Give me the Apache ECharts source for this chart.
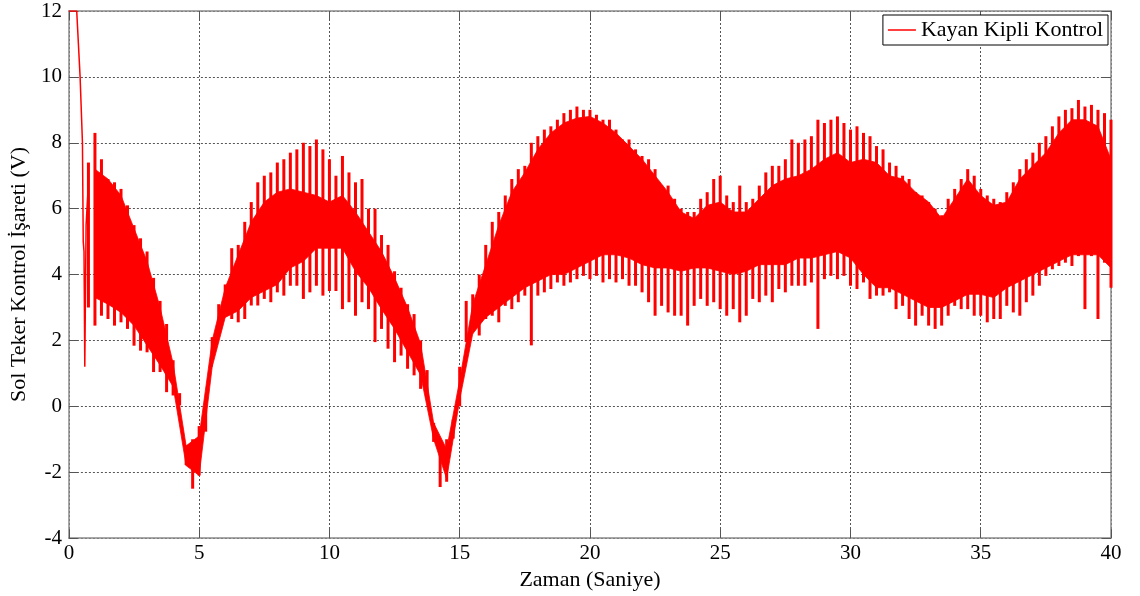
<!DOCTYPE html>
<html><head><meta charset="utf-8">
<script src="https://cdn.jsdelivr.net/npm/echarts@6/dist/echarts.min.js"></script>
<style>html,body{margin:0;padding:0;background:#fff}#c{width:1140px;height:596px}</style>
</head><body><div id="c"></div>
<script>
const SERIES_NAME = 'Kayan Kipli Kontrol';
const X_TITLE = 'Zaman (Saniye)';
const Y_TITLE = 'Sol Teker Kontrol İşareti (V)';
const X_MIN = 0, X_MAX = 40, X_STEP = 5;
const Y_MIN = -4, Y_MAX = 12, Y_STEP = 2;

// initial transient (time s, value V)
const startT = [0, 0.3, 0.43, 0.52, 0.55, 0.58, 0.61, 0.66, 0.75];
const startV = [12, 12, 10, 8, 5.0, 4.7, 1.2, 5.5, 6.8];

// spike envelope, sampled every 0.25 s from t = 0.75 s
const SPIKE_T0 = 0.75, SPIKE_STEP = 0.25;
const spikeHi = [7.4,
 8.3, 7.5, 6.9, 6.8,   6.6, 6.1, 5.5, 5.1,   4.7, 3.9, 3.2, 2.5,   1.4, 0.4, -1.2, -1.0,
 -0.6, -0.1, 2.1, 3.1, 3.7, 4.8, 4.9, 5.6,   6.2, 6.8, 7.0, 7.1,   7.4, 7.5, 7.7, 7.8,
 8.0, 7.9, 8.1, 7.8,   7.5, 7.0, 7.6, 7.1,   6.8, 6.9, 6.0, 6.0,   5.2, 4.9, 4.1, 3.6,
 3.1, 2.8, 2.0, 1.1,   -0.5, -1.1, -1.0, -0.4, 1.2, 3.2, 3.4, 4.0, 4.9, 5.6, 5.9, 6.4,
 6.9, 7.2, 7.3, 8.0,   8.2, 8.4, 8.5, 8.7,   8.9, 9.0, 9.1, 9.0,   9.0, 8.85, 8.7, 8.7,
 8.4, 8.1, 8.1, 7.8,   7.6, 7.5, 7.2, 6.7,   6.7, 6.3, 6.0, 5.9,   5.9, 6.3, 6.5, 6.9,
 7.0, 6.4, 6.2, 6.7,   6.2, 6.3, 6.7, 7.1,   7.3, 7.3, 7.5, 8.1,   8.0, 8.1, 8.2, 8.7,
 8.6, 8.7, 8.8, 8.6,   8.4, 8.5, 8.3, 8.2,   7.9, 7.8, 7.4, 7.3,   7.0, 6.9, 6.5, 6.4,
 6.2, 6.0, 5.8, 6.3,   6.6, 6.9, 7.2, 7.0,   6.6, 6.4, 6.3, 6.2,   6.5, 6.8, 7.2, 7.5,
 7.7, 8.0, 8.2, 8.5,   8.8, 9.0, 9.05, 9.3,  9.1, 9.15, 9.0, 8.9,  8.7];
const spikeLo = [3.0,
 2.45, 2.75, 2.65, 2.45, 2.55, 2.35, 1.84, 1.69, 1.64, 1.04, 1.04, 0.43, 0.33, 0.03, -1.78, -2.5,
 -2.1, -0.77, 1.44, 2.25, 2.85, 2.65, 2.55, 2.65, 3.06, 3.06, 3.26, 3.16, 3.46, 3.36, 3.66, 3.66,
 3.26, 3.46, 3.66, 3.36, 3.5, 3.5, 2.95, 3.16,  2.75, 3.16, 2.95, 1.95, 2.35, 1.75, 1.34, 1.54,
 1.14, 0.94, 0.53, 0.23, -1.08, -2.45, -2.29, -0.98, 0.0, 1.95, 2.35, 2.15, 2.65, 2.75, 2.55, 3.05,
 2.95, 3.16, 3.36, 1.85, 3.36, 3.46, 3.56, 3.76, 3.66, 3.76, 3.86, 3.96, 3.86, 3.96, 3.76, 3.86,
 3.76, 3.86, 3.66, 3.66, 3.46, 3.16, 2.75, 3.05, 2.85, 2.75, 2.75, 2.45, 3.05, 3.26, 3.05, 3.16,
 2.95, 2.75, 2.95, 2.55, 2.75, 3.26, 3.16, 3.36, 3.16, 3.56, 3.46, 3.66, 3.66, 3.66, 3.76, 2.35,
 3.86, 3.96, 3.86, 3.96, 3.66, 3.56, 3.76, 3.26, 3.36, 3.36, 3.46, 2.95, 3.05, 2.65, 2.45, 2.75,
 2.45, 2.35, 2.45, 2.75, 3.05, 2.95, 2.95, 2.75, 2.75, 2.55, 2.65, 2.65, 3.05, 2.85, 2.75, 3.16,
 3.36, 3.66, 3.96, 4.16, 4.26, 4.36, 4.26, 4.56, 2.95, 4.56, 2.65, 4.36, 3.6];

// dense (mostly solid) core band, sampled every 0.5 s from t = 1 s
const CORE_T0 = 1.0, CORE_STEP = 0.5;
const coreHi = [
 7.2, 6.9, 6.4, 5.4, 4.4, 3.0, 1.3, -1.2, -0.9, 2.0,
 3.6, 4.6, 5.6, 6.2, 6.5, 6.6, 6.5, 6.4, 6.2, 6.4,
 5.9, 5.3, 4.7, 3.9, 3.0, 1.9, -0.5, -1.3, 0.8, 3.1,
 4.3, 5.5, 6.5, 7.1, 7.8, 8.3, 8.6, 8.75, 8.8, 8.6,
 8.3, 7.9, 7.5, 7.0, 6.5, 5.9, 5.7, 6.1, 6.2, 5.9,
 5.9, 6.3, 6.7, 6.9, 7.0, 7.2, 7.5, 7.7, 7.4, 7.5,
 7.4, 7.0, 6.9, 6.5, 6.2, 5.7, 6.3, 6.9, 6.4, 6.1,
 6.2, 6.9, 7.3, 7.7, 8.3, 8.7, 8.7, 8.5, 7.5];
const coreLo = [
 3.3, 3.1, 2.85, 2.45, 1.85, 1.25, 0.6, -1.8, -2.1, 1.2,
 2.7, 2.9, 3.3, 3.5, 3.7, 4.2, 4.4, 4.8, 4.8, 4.8,
 4.1, 3.6, 2.95, 2.35, 1.65, 0.95, -1.0, -2.2, 0.2, 2.2,
 2.7, 3.0, 3.3, 3.6, 3.8, 4.0, 4.0, 4.2, 4.4, 4.6,
 4.6, 4.5, 4.3, 4.2, 4.2, 4.1, 4.2, 4.2, 4.1, 4.0,
 4.1, 4.3, 4.3, 4.3, 4.5, 4.5, 4.6, 4.7, 4.5, 4.0,
 3.6, 3.6, 3.4, 3.2, 3.0, 3.0, 3.2, 3.4, 3.4, 3.3,
 3.6, 3.8, 4.0, 4.2, 4.4, 4.6, 4.6, 4.6, 4.2];

const RED = '#ff0000';
const FONT = 'Liberation Serif';

const startData = startT.map((t, i) => [t, startV[i]]);
const spikeData = spikeHi.map((h, i) => [SPIKE_T0 + i * SPIKE_STEP, spikeLo[i], h]);
const coreData = coreHi.map((h, i) => [CORE_T0 + i * CORE_STEP, coreLo[i], h]);

const chart = echarts.init(document.getElementById('c'), null, {renderer: 'canvas'});

const frameLine = {show: true, onZero: false, lineStyle: {color: '#8a8a8a', width: 1.5}};
const tickIn = {show: true, inside: true, length: 9, lineStyle: {color: '#555', width: 1}};
const grid = {show: true, lineStyle: {color: '#555', width: 1, type: [2, 2]}};

chart.setOption({
  animation: false,
  backgroundColor: '#fff',
  grid: {left: 65, top: 11, width: 1046, height: 529, containLabel: false},
  legend: {
    data: [{name: SERIES_NAME, icon: 'rect'}], right: 32, top: 15,
    backgroundColor: '#fff', borderColor: '#000', borderWidth: 1, borderRadius: 0,
    padding: [4, 5, 4, 5], itemWidth: 28, itemHeight: 1.5, itemGap: 10,
    itemStyle: {color: RED},
    textStyle: {fontFamily: FONT, fontSize: 22, color: '#000'}
  },
  xAxis: [{
    type: 'value', min: X_MIN, max: X_MAX, interval: X_STEP,
    axisLine: frameLine, axisTick: tickIn, splitLine: grid,
    axisLabel: {color: '#000', fontFamily: FONT, fontSize: 21, margin: 5},
    name: X_TITLE, nameLocation: 'middle', nameGap: 25,
    nameTextStyle: {color: '#000', fontFamily: FONT, fontSize: 22}
  }, {
    type: 'value', position: 'top', min: X_MIN, max: X_MAX, interval: X_STEP,
    axisLine: frameLine, axisTick: tickIn, splitLine: {show: false}, axisLabel: {show: false}
  }],
  yAxis: [{
    type: 'value', min: Y_MIN, max: Y_MAX, interval: Y_STEP,
    axisLine: frameLine, axisTick: tickIn, splitLine: grid,
    axisLabel: {color: '#000', fontFamily: FONT, fontSize: 21, margin: 7},
    name: Y_TITLE, nameLocation: 'middle', nameGap: 34, nameRotate: 90,
    nameTextStyle: {color: '#000', fontFamily: FONT, fontSize: 22}
  }, {
    type: 'value', position: 'right', min: Y_MIN, max: Y_MAX, interval: Y_STEP,
    axisLine: frameLine, axisTick: tickIn, splitLine: {show: false}, axisLabel: {show: false}
  }],
  series: [{
    name: 'core', type: 'custom', xAxisIndex: 0, yAxisIndex: 0,
    data: coreData, encode: {x: 0, y: [1, 2]}, silent: true,
    renderItem: function (params, api) {
      const i = params.dataIndex;
      if (i >= coreData.length - 1) return null;
      const n = coreData[i + 1];
      const a = api.coord([api.value(0), api.value(1)]);
      const b = api.coord([api.value(0), api.value(2)]);
      const c = api.coord([n[0], n[2]]);
      const d = api.coord([n[0], n[1]]);
      return {type: 'polygon', shape: {points: [a, b, c, d]},
        style: {fill: RED, stroke: RED, lineWidth: 0.8}};
    }
  }, {
    name: 'spikes', type: 'custom', xAxisIndex: 0, yAxisIndex: 0,
    data: spikeData, encode: {x: 0, y: [1, 2]}, silent: true,
    renderItem: function (params, api) {
      const a = api.coord([api.value(0), api.value(1)]);
      const b = api.coord([api.value(0), api.value(2)]);
      return {type: 'line', shape: {x1: a[0], y1: a[1], x2: b[0], y2: b[1]},
        style: {stroke: RED, lineWidth: 3}};
    }
  }, {
    name: SERIES_NAME, type: 'line', data: startData, symbol: 'none',
    lineStyle: {color: RED, width: 1.5}, itemStyle: {color: RED}
  }]
});
</script></body></html>
